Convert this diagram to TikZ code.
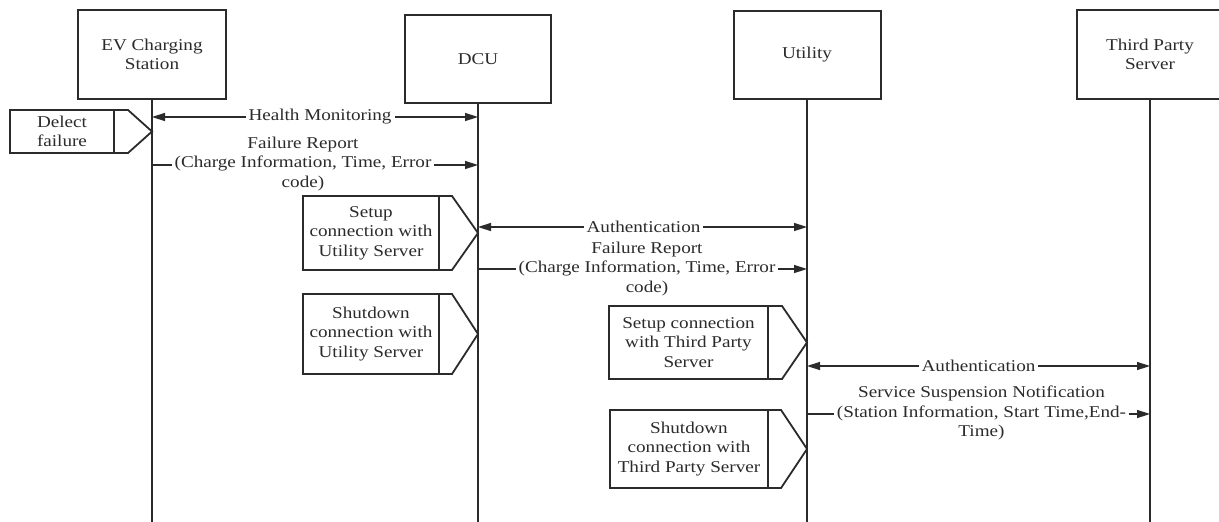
\documentclass[tikz,border=0pt]{standalone}
\usepackage{fontspec}
\setmainfont{Liberation Serif}[FakeStretch=1.16]
\usetikzlibrary{arrows.meta}
\definecolor{ink}{HTML}{2B2B2B}

% activity box: a pentagon pointing at a lifeline, with a divider bar
% #1 name, #2 left x, #3 divider x, #4 shoulder x, #5 tip x, #6 top y, #7 bottom y, #8 text
\newcommand{\actbox}[8]{%
  \draw[actline] (#2,#6) -- (#4,#6) -- (#5,{(#6+#7)/2}) -- (#4,#7) -- (#2,#7) -- cycle;
  \draw[actline] (#3,#6) -- (#3,#7);
  \node[acttext] (#1) at ({(#2+#3)/2},{(#6+#7)/2}) {#8};
}

\tikzset{
  every node/.style={font=\fontsize{16.5}{19.5}\selectfont, text=ink},
  hdr/.style={draw=ink, line width=2pt, fill=white, align=center, inner sep=0pt},
  life/.style={draw=ink, line width=2pt},
  actline/.style={draw=ink, line width=1.8pt, line join=miter},
  acttext/.style={align=center, inner sep=0pt},
  msg/.style={draw=ink, line width=1.5pt},
  lbl/.style={fill=white, align=center, inner xsep=3pt, inner ysep=1pt},
  >={Triangle[length=13pt,width=8pt]},
}

\begin{document}
\begin{tikzpicture}[x=1pt,y=-1pt]
  \clip (0,0) rectangle (1219,522);
  \fill[white] (0,0) rectangle (1219,522);

  % participants
  \node[hdr, minimum width=148pt, minimum height=89pt] (ev)   at (152,54.5)  {EV Charging\\Station};
  \node[hdr, minimum width=146pt, minimum height=88pt] (dcu)  at (478,59)    {DCU};
  \node[hdr, minimum width=147pt, minimum height=88pt] (util) at (807,55)    {Utility};
  \node[hdr, minimum width=146pt, minimum height=89pt] (tps)  at (1150,54.5) {Third Party\\Server};

  % lifelines
  \coordinate (evEnd)   at (152,522);
  \coordinate (dcuEnd)  at (478,522);
  \coordinate (utilEnd) at (807,522);
  \coordinate (tpsEnd)  at (1150,522);
  \draw[life] (ev.south)   -- (evEnd);
  \draw[life] (dcu.south)  -- (dcuEnd);
  \draw[life] (util.south) -- (utilEnd);
  \draw[life] (tps.south)  -- (tpsEnd);

  % message anchor points on the lifelines
  \coordinate (hmA)  at (152,117);  \coordinate (hmB)  at (478,117);
  \coordinate (fr1A) at (152,165);  \coordinate (fr1B) at (478,165);
  \coordinate (au1A) at (478,227);  \coordinate (au1B) at (807,227);
  \coordinate (fr2A) at (478,269);  \coordinate (fr2B) at (807,269);
  \coordinate (au2A) at (807,366);  \coordinate (au2B) at (1150,366);
  \coordinate (ssA)  at (807,414);  \coordinate (ssB)  at (1150,414);

  % messages
  \draw[msg,<->] (hmA) -- (hmB);
  \node[lbl] (hmL) at (320,117) {Health Monitoring};

  \draw[msg,->] (fr1A) -- (fr1B);
  \node[lbl] (fr1L) at (303,164) {Failure Report\\(Charge Information, Time, Error\\code)};

  \draw[msg,<->] (au1A) -- (au1B);
  \node[lbl] (au1L) at (643.5,227) {Authentication};

  \draw[msg,->] (fr2A) -- (fr2B);
  \node[lbl] (fr2L) at (647,269) {Failure Report\\(Charge Information, Time, Error\\code)};

  \draw[msg,<->] (au2A) -- (au2B);
  \node[lbl] (au2L) at (978.5,366) {Authentication};

  \draw[msg,->] (ssA) -- (ssB);
  \node[lbl] (ssL) at (981.5,413) {Service Suspension Notification\\(Station Information, Start Time,End-\\Time)};

  % activity boxes
  \actbox{detect}{10}{114}{128}{152}{110}{153}{Delect\\failure}
  \actbox{setupU}{303}{439}{452}{478}{196}{270}{Setup\\connection with\\Utility Server}
  \actbox{shutU}{303}{439}{452}{478}{294}{374}{Shutdown\\connection with\\Utility Server}
  \actbox{setupT}{609}{768}{782}{807}{306}{379}{Setup connection\\with Third Party\\Server}
  \actbox{shutT}{610}{768}{781}{807}{410}{488}{Shutdown\\connection with\\Third Party Server}
\end{tikzpicture}
\end{document}
